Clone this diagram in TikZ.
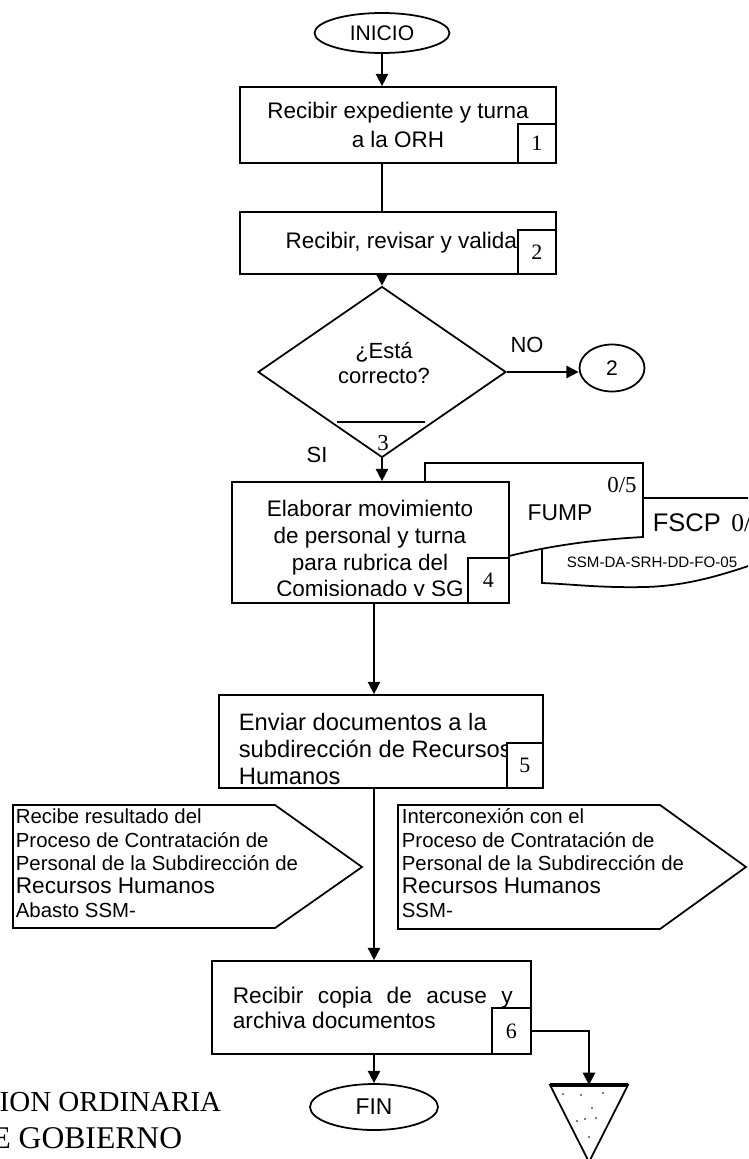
\documentclass[tikz,border=0pt]{standalone}
\usepackage{fontspec}
\setmainfont{Liberation Sans}
\newfontfamily\numfont{Liberation Serif}
\usetikzlibrary{shapes.geometric,arrows.meta}

\tikzset{ proc/.style = { rectangle % process box
        , draw
        , fill = white
        , line width = 1pt
        , inner sep = 0pt
        , font = \fontsize{12.8}{15.2}\selectfont
        }
        , numb/.style = { rectangle % step number
        , draw
        , fill = white
        , line width = 1pt
        , inner sep = 0pt
        , font = \numfont\fontsize{12.5}{14}\selectfont
        }
        , term/.style = { ellipse % start / end / connector
        , draw
        , fill = white
        , line width = 1pt
        , inner sep = 0pt
        , font = \fontsize{12}{14}\selectfont
        }
        , txt/.style = { inner sep = 0pt % free text
        , font = \fontsize{12.8}{15.2}\selectfont
        }
        }

\begin{document}
\begin{tikzpicture}[x=0.02cm, y=-0.02cm, line width=1pt,
        edge_style/.style={draw=black, line width=1pt, -{Triangle[length=7pt,width=7pt]}},
        line_style/.style={draw=black, line width=1pt},
        doc_style/.style={draw=black, fill=white, line width=1pt},
        small_style/.style={inner sep=0pt, font=\fontsize{11.6}{13.3}\selectfont}]
        \useasboundingbox (0,0) rectangle (748,1159);
        \clip (0,0) rectangle (748,1159);

        % start and steps 1-2
        \node [term, minimum width=2.7cm, minimum height=0.8cm] (ini) at (382,33) {INICIO};
        \node [proc, minimum width=6.32cm, minimum height=1.52cm, align=center,
               font=\fontsize{12.8}{16.4}\selectfont] (b1) at (398,125) {Recibir expediente y turna\\a la ORH};
        \node [numb, minimum width=0.76cm, minimum height=0.78cm, anchor=south east] (n1) at (b1.south east) {1};
        \node [proc, minimum width=6.32cm, minimum height=1.24cm] (b2) at (398,243) {\hspace*{8pt}Recibir, revisar y validar};
        \node [numb, minimum width=0.76cm, minimum height=0.88cm, anchor=south east] (n2) at (b2.south east) {2};

        % decision
        \node [diamond, draw, line width=1pt, inner sep=0pt, minimum width=4.96cm, minimum height=3.42cm] (dec) at (382,372) {};
        \node [txt, align=center, font=\fontsize{12.5}{14.2}\selectfont] (q) at (384,363) {¿Está\\correcto?};
        \draw [line_style] (337,422) -- (425,422);
        \node [txt, font=\numfont\fontsize{13}{14}\selectfont] (k3) at (383,443) {3};
        \node [txt, font=\fontsize{12.5}{14}\selectfont] (lno) at (527,345) {NO};
        \node [txt, font=\fontsize{12.5}{14}\selectfont] (lsi) at (317,455) {SI};
        \node [term, minimum width=1.3cm, minimum height=0.94cm] (c2) at (612,368) {2};

        % forms
        \draw [doc_style] (542,498) -- (760,498) -- (760,562) .. controls (720,576) and (685,586) .. (645,587) .. controls (600,588) and (570,584) .. (542,583) -- cycle;
        \draw [doc_style] (425,463) -- (643,463) -- (643,537) .. controls (590,540) and (550,546) .. (509,556) .. controls (480,563) and (450,566) .. (425,560) -- cycle;
        \node [txt, font=\numfont\fontsize{13}{15}\selectfont] (f0) at (622,485) {0/5};
        \node [txt, font=\fontsize{13}{15}\selectfont] (fump) at (560,513) {FUMP};
        \node [txt, anchor=west, font=\fontsize{14.5}{16}\selectfont] (fscp) at (652,523) {FSCP\hspace{6pt}{\numfont 0/5}};
        \node [txt, font=\fontsize{8.6}{10}\selectfont] (code) at (652,562) {SSM-DA-SRH-DD-FO-05};

        % step 4
        \node [proc, minimum width=5.54cm, minimum height=2.42cm] (b4) at (370.5,542.5) {};
        \begin{scope}
            \clip (232,482) rectangle (509,595);
            \node [txt, align=center] (t4) at (370,551) {Elaborar movimiento\\de personal y turna\\para rubrica del\\Comisionado y SG};
        \end{scope}
        \node [numb, minimum width=0.82cm, minimum height=0.9cm, anchor=south east] (n4) at (b4.south east) {4};

        % step 5
        \node [proc, minimum width=6.48cm, minimum height=1.86cm] (b5) at (381,741.5) {};
        \node [txt, anchor=west, align=left, font=\fontsize{13.5}{15.6}\selectfont] (t5) at (238,749) {Enviar documentos a la\\subdirección de Recursos\\Humanos};
        \node [numb, minimum width=0.72cm, minimum height=0.9cm, anchor=south east] (n5) at (b5.south east) {5};

        % off-page interconnections
        \draw [doc_style] (13,805) -- (275,805) -- (362,867) -- (275,928) -- (13,928) -- cycle;
        \node [small_style, anchor=north west, align=left] (ib) at (15,808) {Recibe resultado del\\Proceso de Contratación de\\Personal de la Subdirección de\\{\fontsize{12.9}{13.3}\selectfont Recursos Humanos}\\Abasto SSM-};
        \draw [doc_style] (398,805) -- (660,805) -- (746,867) -- (660,929) -- (398,929) -- cycle;
        \node [small_style, anchor=north west, align=left] (ic) at (401,808) {Interconexión con el\\Proceso de Contratación de\\Personal de la Subdirección de\\{\fontsize{12.9}{13.3}\selectfont Recursos Humanos}\\SSM-};

        % step 6 and end
        \node [proc, minimum width=6.38cm, minimum height=1.86cm] (b6) at (371.5,1007.5) {};
        \node [txt, anchor=west, text width=5.6cm, align=justify, font=\fontsize{12.9}{14.2}\selectfont] (t6) at (232,1008) {Recibir copia de acuse y archiva documentos};
        \node [numb, minimum width=0.78cm, minimum height=0.92cm, anchor=south east] (n6) at (b6.south east) {6};
        \node [term, minimum width=2.56cm, minimum height=0.92cm, font=\fontsize{13}{15}\selectfont] (fin) at (374,1107) {FIN};

        % archive
        \coordinate (arch) at (589,1085);
        \draw [line_style, fill=white] (550,1085) -- (628,1085) -- (589,1162) -- cycle;
        \draw [line width=1.8pt] (550,1085) -- (628,1085);
        \foreach \px/\py in {563/1094, 581/1095, 603/1093, 592/1108, 585/1119, 596/1118, 577/1121, 589/1137}
            \fill (\px,\py) circle [radius=0.8];

        % stamp
        \node [anchor=east, inner sep=0pt, font=\numfont\fontsize{16.5}{18}\selectfont] (s1) at (222,1102) {CION ORDINARIA};
        \node [anchor=east, inner sep=0pt, font=\numfont\fontsize{18}{19}\selectfont] (s2) at (183,1138) {E GOBIERNO};

        % connectors
        \draw [edge_style] (ini.south) -- (ini.south |- b1.north);
        \draw [line_style] (b1.south -| dec.north) -- (b2.north -| dec.north);
        \draw [edge_style] (b2.south -| dec.north) -- (dec.north);
        \draw [edge_style] (dec.east) -- (dec.east -| c2.west);
        \draw [edge_style] (dec.south) -- (dec.south |- b4.north);
        \draw [edge_style] (b4.south -| fin.north) -- (b5.north -| fin.north);
        \draw [edge_style] (b5.south -| fin.north) -- (b6.north -| fin.north);
        \draw [edge_style] (b6.south -| fin.north) -- (fin.north);
        \draw [edge_style] (n6.east) -| (arch);
\end{tikzpicture}
\end{document}
